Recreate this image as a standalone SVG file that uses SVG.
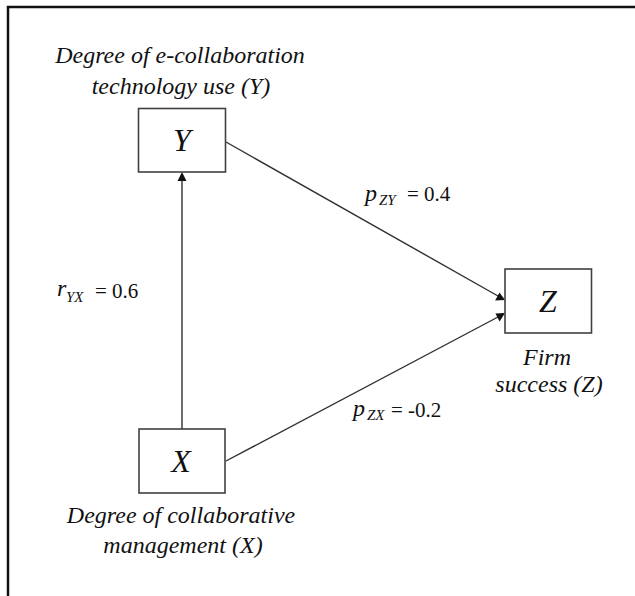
<svg xmlns="http://www.w3.org/2000/svg" width="635" height="596" viewBox="0 0 635 596">
  <path d="M8,597 V7 H636" fill="none" stroke="#111" stroke-width="2.5"/>

  <g id="connectors" stroke="#303030" stroke-width="1.4">
    <line x1="182" y1="429" x2="182" y2="180"/>
    <polygon points="182,172 177.5,181 186.5,181" fill="#111" stroke="none"/>
    <line x1="226" y1="142" x2="498" y2="296"/>
    <polygon points="505,300 495.1,300.4 499.5,292.6" fill="#111" stroke="none"/>
    <line x1="226" y1="461" x2="498" y2="317"/>
    <polygon points="505,313 499.6,321.4 495.4,313.4" fill="#111" stroke="none"/>
  </g>

  <text font-family="Liberation Serif" font-size="21" fill="#111"><tspan font-style="italic" font-size="24" x="365" y="201">p</tspan><tspan font-style="italic" font-size="15" x="379" y="205">ZY</tspan><tspan x="407" y="201">= 0.4</tspan></text>
  <text font-family="Liberation Serif" font-size="21" fill="#111"><tspan font-style="italic" font-size="24" x="57" y="296">r</tspan><tspan font-style="italic" font-size="15" x="66" y="302">YX</tspan><tspan x="95" y="298">= 0.6</tspan></text>
  <text font-family="Liberation Serif" font-size="21" fill="#111"><tspan font-style="italic" font-size="24" x="353" y="416">p</tspan><tspan font-style="italic" font-size="15" x="367" y="420">ZX</tspan><tspan x="391" y="417">= -0.2</tspan></text>

  <g id="node-Y">
    <rect x="138.5" y="108.5" width="87" height="63.5" fill="#fff" stroke="#404040" stroke-width="1.6"/>
    <text x="182" y="151" font-family="Liberation Serif" font-style="italic" font-size="32" fill="#111" text-anchor="middle">Y</text>
    <text x="180" y="63" font-family="Liberation Serif" font-style="italic" font-size="24" fill="#111" text-anchor="middle">Degree of e-collaboration</text>
    <text x="181" y="94" font-family="Liberation Serif" font-style="italic" font-size="24" fill="#111" text-anchor="middle">technology use (Y)</text>
  </g>

  <g id="node-Z">
    <rect x="505" y="269" width="86.5" height="64" fill="#fff" stroke="#404040" stroke-width="1.6"/>
    <text x="548" y="312" font-family="Liberation Serif" font-style="italic" font-size="32" fill="#111" text-anchor="middle">Z</text>
    <text x="547" y="365" font-family="Liberation Serif" font-style="italic" font-size="24" fill="#111" text-anchor="middle">Firm</text>
    <text x="549" y="392" font-family="Liberation Serif" font-style="italic" font-size="24" fill="#111" text-anchor="middle">success (Z)</text>
  </g>

  <g id="node-X">
    <rect x="139" y="429" width="86" height="64" fill="#fff" stroke="#404040" stroke-width="1.6"/>
    <text x="181" y="472" font-family="Liberation Serif" font-style="italic" font-size="32" fill="#111" text-anchor="middle">X</text>
    <text x="181" y="523" font-family="Liberation Serif" font-style="italic" font-size="24" fill="#111" text-anchor="middle">Degree of collaborative</text>
    <text x="183" y="553" font-family="Liberation Serif" font-style="italic" font-size="24" fill="#111" text-anchor="middle">management (X)</text>
  </g>
</svg>
